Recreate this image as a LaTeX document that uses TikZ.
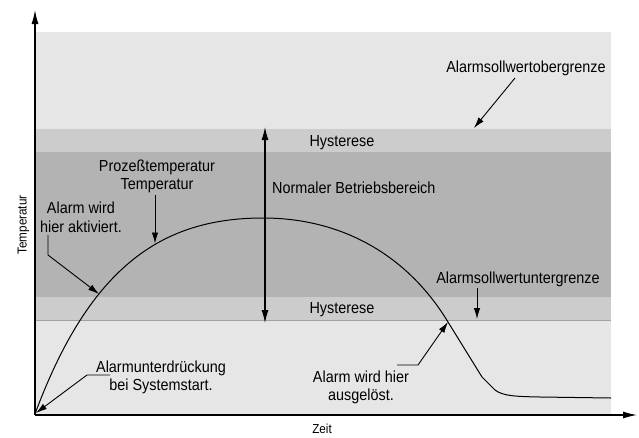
\documentclass[tikz,border=0pt]{standalone}
\usepackage{fontspec}
\setmainfont[FakeStretch=0.9]{Liberation Sans}
\usetikzlibrary{arrows.meta}
\definecolor{bandlight}{HTML}{E6E6E6}
\definecolor{bandhyst}{HTML}{CCCCCC}
\definecolor{banddark}{HTML}{B3B3B3}
\definecolor{bandline}{HTML}{A0A0A0}
\begin{document}
\begin{tikzpicture}[x=1pt,y=-1pt,
  lbl/.style={font=\fontsize{16}{18}\selectfont, inner sep=0pt, anchor=base},
  axlbl/.style={font=\fontsize{13}{15}\selectfont, inner sep=0pt, anchor=base},
  ptr/.style={line width=0.9pt, -{Latex[length=11pt,width=6.5pt]}},
  axis/.style={line width=1.2pt, -{Latex[length=14pt,width=7pt]}},
  dbl/.style={line width=1.1pt, {Latex[length=13pt,width=7pt]}-{Latex[length=13pt,width=7pt]}},
  curve/.style={line width=1pt, line join=round}]
\useasboundingbox (0,0) rectangle (639,437);
% bands
\fill[bandlight] (35,32) rectangle (611,129);
\fill[bandhyst] (35,129) rectangle (611,152);
\fill[banddark] (35,152) rectangle (611,297);
\fill[bandhyst] (35,297) rectangle (611,320);
\fill[bandlight] (35,320) rectangle (611,415);
\draw[bandline, line width=0.6pt] (35,320) -- (611,320);
% axes
\coordinate (O) at (35,415);
\coordinate (ytop) at (35,10);
\coordinate (xend) at (637,415);
\draw[axis] (O) -- (ytop);
\draw[axis] (O) -- (xend);
\node[axlbl] (zeit) at (322,433) {Zeit};
\node[axlbl, rotate=90] (temp) at (26.5,225) {Temperatur};
% curve
\coordinate (c0) at (35,414);
\coordinate (cPeak) at (263,218);
\coordinate (cCross) at (448,322);
\coordinate (cKnee) at (482,377);
\coordinate (cKnee2) at (495,390);
\coordinate (cFlat) at (540,397);
\coordinate (cEnd) at (611,398);
\draw[curve] (c0) .. controls (90,265.5) and (163,218) .. (cPeak)
  .. controls (343,218) and (408,256) .. (cCross)
  -- (cKnee) -- (cKnee2) .. controls (503,396) and (515,396.5) .. (cFlat) -- (cEnd);
\coordinate (pA) at (99,294);
\coordinate (pT) at (155,243.5);
\coordinate (pU) at (448,322);
\coordinate (pS) at (36,413);
% normal range arrow
\coordinate (nTop) at (265,127);
\coordinate (nBot) at (265,323);
\draw[dbl] (nTop) -- (nBot);
% labels
\node[lbl] (hyst1) at (342,146) {Hysterese};
\node[lbl] (hyst2) at (342,313) {Hysterese};
\node[lbl, anchor=base west] (normal) at (272,193) {Normaler Betriebsbereich};
\node[lbl] (ober) at (526,72) {Alarmsollwertobergrenze};
\node[lbl] (unter) at (518,283) {Alarmsollwertuntergrenze};
\node[lbl] (proz1) at (157,171) {Prozeßtemperatur};
\node[lbl] (proz2) at (157,189) {Temperatur};
\node[lbl] (akt1) at (81,213) {Alarm wird};
\node[lbl] (akt2) at (81,232) {hier aktiviert.};
\node[lbl] (unt1) at (161,372) {Alarmunterdrückung};
\node[lbl] (unt2) at (161,390) {bei Systemstart.};
\node[lbl] (aus1) at (361,382) {Alarm wird hier};
\node[lbl] (aus2) at (361,400) {ausgelöst.};
% pointer arrows
\coordinate (oStart) at (515,78);
\coordinate (oTip) at (474,128);
\draw[ptr] (oStart) -- (oTip);
\coordinate (uStart) at (477,288);
\coordinate (uTip) at (477,319);
\draw[ptr] (uStart) -- (uTip);
\coordinate (tStart) at (155,195);
\draw[ptr] (tStart) -- (pT);
\coordinate (aStart) at (48,235);
\coordinate (aBend) at (48,255);
\draw[ptr] (aStart) -- (aBend) -- (pA);
\coordinate (sStart) at (110,375);
\coordinate (sBend) at (87,375);
\draw[ptr] (sStart) -- (sBend) -- (pS);
\coordinate (lStart) at (397,365);
\coordinate (lBend) at (418,365);
\draw[ptr] (lStart) -- (lBend) -- (pU);
\end{tikzpicture}
\end{document}
